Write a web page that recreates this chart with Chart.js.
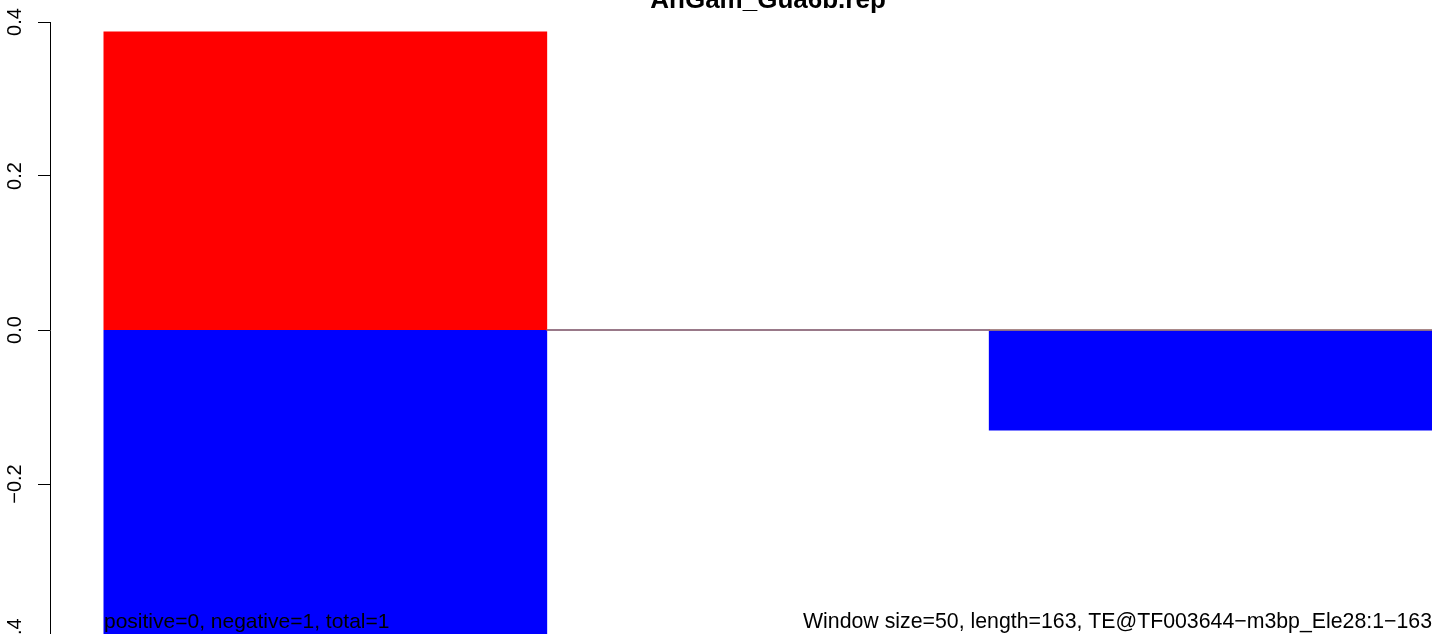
<!DOCTYPE html>
<html>
<head>
<meta charset="utf-8">
<script src="https://cdn.jsdelivr.net/npm/chart.js@4.4.1/dist/chart.umd.min.js"></script>
<style>
  html, body { margin: 0; padding: 0; background: #ffffff; overflow: hidden; }
  #wrap { width: 1441px; height: 634px; overflow: hidden; position: relative; }
  canvas { display: block; }
</style>
</head>
<body>
<div id="wrap"><canvas id="c" width="1441" height="660"></canvas></div>
<script>
// ---- data ----
const chartTitle = 'AnGam_Gua6b.rep';
const windowIndex = [1, 2, 3];
const positiveValues = [0.387, 0, 0];
const negativeValues = [-0.4, 0, -0.13];
const yTickValues = [-0.4, -0.2, 0, 0.2, 0.4];
const yTickLabels = ['\u22120.4', '\u22120.2', '0.0', '0.2', '0.4'];
const leftNote = 'positive=0, negative=1, total=1';
const rightNote = 'Window size=50, length=163, TE@TF003644\u2212m3bp_Ele28:1\u2212163';

const FONT = "'Liberation Sans', Arial, Helvetica, sans-serif";

const posData = windowIndex.map((x, i) => ({ x: x, y: positiveValues[i] }));
const negData = windowIndex.map((x, i) => ({ x: x, y: negativeValues[i] }));
const zeroLineData = [
  { x: windowIndex[1] - 0.5, y: 0 },
  { x: windowIndex[windowIndex.length - 1] + 0.5, y: 0 }
];

const textPlugin = {
  id: 'rText',
  afterDraw(chart) {
    const ctx = chart.ctx;
    const ys = chart.scales.y;
    const xs = chart.scales.x;
    ctx.save();
    ctx.fillStyle = '#000000';
    // rotated y tick labels
    ctx.font = '20px ' + FONT;
    ctx.textAlign = 'center';
    ctx.textBaseline = 'alphabetic';
    yTickValues.forEach((v, i) => {
      const py = ys.getPixelForValue(v);
      ctx.save();
      ctx.translate(20.5, py);
      ctx.rotate(-Math.PI / 2);
      ctx.fillText(yTickLabels[i], 0, 0);
      ctx.restore();
    });
    // title
    const xl = xs.getPixelForValue(windowIndex[0] - 0.5);
    const xr = xs.getPixelForValue(windowIndex[windowIndex.length - 1] + 0.5);
    ctx.font = 'bold 26px ' + FONT;
    ctx.textAlign = 'center';
    ctx.fillText(chartTitle, (xl + xr) / 2, 7.5);
    // bottom notes
    ctx.font = '21px ' + FONT;
    ctx.textAlign = 'left';
    ctx.fillText(leftNote, xl, 628);
    ctx.textAlign = 'right';
    ctx.font = '21.3px ' + FONT;
    ctx.fillText(rightNote, xr, 628);
    ctx.restore();
  }
};

new Chart(document.getElementById('c'), {
  type: 'bar',
  data: {
    datasets: [
      {
        type: 'line',
        label: 'zero',
        data: zeroLineData,
        borderColor: '#8c8c8c',
        borderWidth: 1.3,
        pointRadius: 0,
        fill: false,
        order: 0
      },
      {
        label: 'positive',
        data: posData,
        backgroundColor: '#ff0000',
        borderWidth: 0,
        inflateAmount: 0.5,
        categoryPercentage: 1,
        barPercentage: 1,
        order: 1
      },
      {
        label: 'negative',
        data: negData,
        backgroundColor: '#0000ff',
        borderWidth: 0,
        inflateAmount: 0.5,
        categoryPercentage: 1,
        barPercentage: 1,
        order: 1
      }
    ]
  },
  options: {
    responsive: false,
    animation: false,
    events: [],
    layout: { padding: { top: 22, right: 9, bottom: 22, left: 0 } },
    plugins: {
      legend: { display: false },
      tooltip: { enabled: false },
      title: { display: false }
    },
    scales: {
      x: {
        type: 'linear',
        display: false,
        offset: false,
        grid: { offset: false },
        stacked: true,
        min: 0.378,
        max: 3.5,
        afterBuildTicks(scale) {
          scale.ticks = windowIndex.map(v => ({ value: v }));
        }
      },
      y: {
        type: 'linear',
        position: 'left',
        stacked: true,
        min: -0.4,
        max: 0.4,
        afterBuildTicks(scale) {
          scale.ticks = yTickValues.map(v => ({ value: v }));
        },
        afterFit(scale) { scale.width = 50; },
        ticks: { display: false },
        grid: {
          drawOnChartArea: false,
          drawTicks: true,
          tickLength: 12,
          tickColor: '#000000',
          tickWidth: 1
        },
        border: { display: true, color: '#000000', width: 1 }
      }
    }
  },
  plugins: [textPlugin]
});
</script>
</body>
</html>
